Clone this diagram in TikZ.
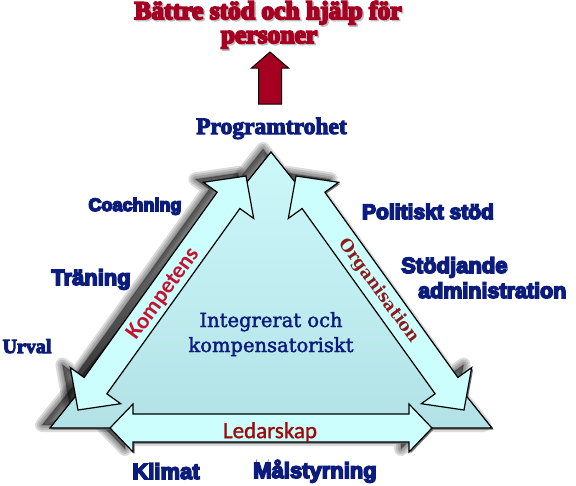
\documentclass[tikz,border=0pt]{standalone}
\usepackage{fontspec}
\usetikzlibrary{calc}
\newfontfamily\titlefont[FakeBold=7]{Liberation Serif Bold}
\newfontfamily\heavyserif{Liberation Serif Bold}
\newfontfamily\heavysans{Liberation Sans Bold}
\newfontfamily\midserif{DejaVu Serif}
\newfontfamily\orgserif{DejaVu Serif Bold}
\newfontfamily\calib{Carlito}
\newfontfamily\calibb{Carlito Bold}
\newcommand\thick[2]{\special{pdf:literal direct 2 Tr #1 w}#2\special{pdf:literal direct 0 Tr}}
\definecolor{mynavy}{HTML}{0C1C7C}
\definecolor{titlered}{HTML}{A50021}
\definecolor{kompred}{HTML}{C41230}
\definecolor{orgred}{HTML}{8E1B1B}
\definecolor{ledred}{HTML}{9C0A0A}
\definecolor{arrfill}{HTML}{CCFEFE}
\definecolor{tritop}{HTML}{CDF8FA}
\definecolor{tribot}{HTML}{B2E2E6}
\newcommand\dblarrow[6]{%
  \coordinate (hA) at ($(#1)!#3!(#2)$);
  \coordinate (hB) at ($(#2)!#3!(#1)$);
  \path[#6] (#1) -- ($(hA)!#4!90:(#2)$) -- ($(hA)!#5!90:(#2)$)
    -- ($(hB)!#5!-90:(#1)$) -- ($(hB)!#4!-90:(#1)$) -- (#2)
    -- ($(hB)!#4!90:(#1)$) -- ($(hB)!#5!90:(#1)$)
    -- ($(hA)!#5!-90:(#2)$) -- ($(hA)!#4!-90:(#2)$) -- cycle;
}
\newcommand\allshapes[1]{%
  \path[#1] (A) -- (B) -- (C) -- cycle;
  \dblarrow{L1}{L2}{30pt}{31pt}{14pt}{#1}
  \dblarrow{R1}{R2}{30pt}{31pt}{14pt}{#1}
  \dblarrow{D1}{D2}{23pt}{24pt}{14pt}{#1}
}
\tikzset{
  navysans/.style={text=mynavy, inner sep=0pt, anchor=base},
  outl/.style={draw=black, line width=1.2pt, line join=miter},
}
\begin{document}
\begin{tikzpicture}[x=1pt,y=-1pt]
\useasboundingbox (0,0) rectangle (576,485);
% geometry
\coordinate (A) at (50,428);
\coordinate (B) at (271,152);
\coordinate (C) at (492,428);
\coordinate (L1) at (78,410);
\coordinate (L2) at (246,176);
\coordinate (R1) at (464,410);
\coordinate (R2) at (296,176);
\coordinate (D1) at (110,428);
\coordinate (D2) at (432,428);
% soft shadow to the left
\foreach \w in {14,10,6,2}{
  \allshapes{fill=black, draw=black, line width=\w pt, line join=round, opacity=0.14, transform canvas={shift={(-8pt,3pt)}}}
}
% thin dark shadow
\allshapes{fill=black!55, transform canvas={shift={(1.5pt,-1.5pt)}}}
% triangle
\path[outl, top color=tritop, bottom color=tribot] (A) -- (B) -- (C) -- cycle;
% arrows
\dblarrow{L1}{L2}{30pt}{31pt}{14pt}{outl, fill=arrfill}
\dblarrow{R1}{R2}{30pt}{31pt}{14pt}{outl, fill=arrfill}
\dblarrow{D1}{D2}{23pt}{24pt}{14pt}{outl, fill=arrfill}
% red up arrow
\coordinate (ut) at (270,52);
\path[fill=titlered, draw=black, line width=1pt, line join=miter]
  (ut) -- ++(18.5,16) -- ++(-7,0) -- ++(0,36) -- ++(-23,0) -- ++(0,-36) -- ++(-7,0) -- cycle;
% title
\node[text=black!25, inner sep=0pt, anchor=base, font=\titlefont\fontsize{25.5}{28}\selectfont] (t1s) at (269.5,20.5) {Bättre stöd och hjälp för};
\node[text=black!25, inner sep=0pt, anchor=base, font=\titlefont\fontsize{25.5}{28}\selectfont] (t2s) at (270.5,44.5) {personer};
\node[text=titlered, inner sep=0pt, anchor=base, font=\titlefont\fontsize{25.5}{28}\selectfont] (t1) at (268,19) {Bättre stöd och hjälp för};
\node[text=titlered, inner sep=0pt, anchor=base, font=\titlefont\fontsize{25.5}{28}\selectfont] (t2) at (269,43) {personer};
% labels
\node[navysans, font=\heavyserif\fontsize{23.5}{26}\selectfont] (prog) at (271.5,134) {\thick{1.0}{Programtrohet}};
\node[navysans, font=\heavysans\fontsize{18}{20}\selectfont] (coach) at (135,211) {\thick{1.5}{Coachning}};
\node[navysans, font=\heavysans\fontsize{22}{24}\selectfont] (tran) at (91,285) {\thick{1.5}{Träning}};
\node[navysans, font=\heavyserif\fontsize{20}{22}\selectfont] (urval) at (27,353) {\thick{1.0}{Urval}};
\node[navysans, font=\heavysans\fontsize{21}{24}\selectfont] (polit) at (428,219) {\thick{1.5}{Politiskt stöd}};
\node[navysans, anchor=base west, font=\heavysans\fontsize{22}{24}\selectfont] (stod) at (401,273) {\thick{1.5}{Stödjande}};
\node[navysans, anchor=base west, font=\heavysans\fontsize{21.5}{24}\selectfont] (adm) at (418,298) {\thick{1.5}{administration}};
\node[navysans, font=\heavysans\fontsize{22}{24}\selectfont] (klimat) at (166,479) {\thick{1.5}{Klimat}};
\node[navysans, font=\heavysans\fontsize{22}{24}\selectfont] (mal) at (315,478) {\thick{1.5}{Målstyrning}};
\node[navysans, font=\midserif\fontsize{19.5}{22}\selectfont] (int1) at (271,327) {\thick{0.4}{Integrerat och}};
\node[navysans, font=\midserif\fontsize{19.5}{22}\selectfont] (int2) at (271,352) {\thick{0.4}{kompensatoriskt}};
% arrow labels
\node[text=kompred, inner sep=0pt, rotate=54, font=\calibb\fontsize{23}{26}\selectfont] (komp) at (164,294) {Kompetens};
\node[text=orgred, inner sep=0pt, rotate=-54, font=\orgserif\fontsize{17}{22}\selectfont] (org) at (379,291) {Organisation};
\node[text=ledred, inner sep=0pt, font=\calib\fontsize{23}{26}\selectfont] (led) at (270,432) {\thick{0.3}{Ledarskap}};
\end{tikzpicture}
\end{document}
